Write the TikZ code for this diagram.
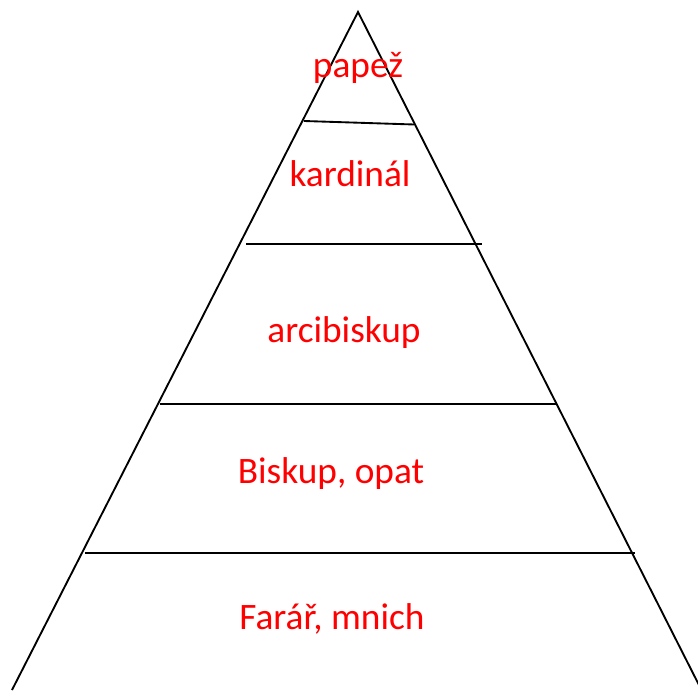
\documentclass[tikz,border=0pt]{standalone}
\usepackage{fontspec}
\setmainfont{Carlito}
\definecolor{rankred}{RGB}{255,0,0}
\tikzset{
  edge/.style={draw=black, line width=1.4pt},
  rank/.style={text=rankred, font=\fontsize{28pt}{30pt}\selectfont, inner sep=0pt, anchor=center}
}
\begin{document}
\begin{tikzpicture}[x=0.75pt,y=-0.75pt]
\useasboundingbox[fill=white] (0,0) rectangle (698,691);
\coordinate (apex) at (358,12);
\coordinate (bl) at (12,690);
\coordinate (br) at (702,691);
\draw[edge] (bl) -- (apex) -- (br);
\draw[edge] (304,121) -- (414,124.5);
\draw[edge] (246,244) -- (482,244);
\draw[edge] (160,404) -- (557,404);
\draw[edge] (85,553) -- (635,553);
\node[rank] (papez) at (358,68) {papež};
\node[rank] (kard) at (350,174) {kardinál};
\node[rank] (arci) at (344,333) {arcibiskup};
\node[rank] (bisk) at (331,474) {Biskup, opat};
\node[rank] (farar) at (332,619) {Farář, mnich};
\end{tikzpicture}
\end{document}
